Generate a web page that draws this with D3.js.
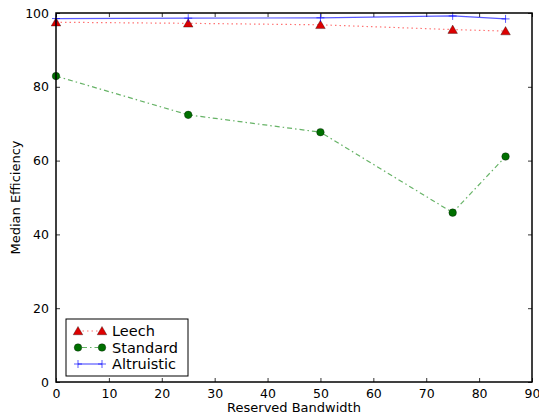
<!DOCTYPE html>
<html>
<head>
<meta charset="utf-8">
<script src="https://cdn.jsdelivr.net/npm/d3@7"></script>
<style>
  body { margin: 0; background: #fff; }
  text { font-family: "DejaVu Sans", sans-serif; }
</style>
</head>
<body>
<div id="chart"></div>
<script>
// data
var bandwidth = [0, 25, 50, 75, 85];
var leech = [97.5, 97.2, 96.8, 95.5, 95.1];
var standard = [82.9, 72.4, 67.7, 45.9, 61.1];
var altruistic = [98.5, 98.6, 98.7, 99.2, 98.4];
var xTicks = [0, 10, 20, 30, 40, 50, 60, 70, 80, 90];
var yTicks = [0, 20, 40, 60, 80, 100];

var margin = {top: 13, right: 7, bottom: 35, left: 56},
    width = 539 - margin.left - margin.right,
    height = 417 - margin.top - margin.bottom;

var svg = d3.select("#chart")
  .append("svg")
    .attr("width", 539)
    .attr("height", 417)
  .append("g")
    .attr("transform", "translate(" + margin.left + "," + margin.top + ")");

var x = d3.scaleLinear().domain([0, 90]).range([0, width]);
var y = d3.scaleLinear().domain([0, 100]).range([height, 0]);

// axes, ticks pointing inward like matplotlib classic
function styleAxis(g) {
  g.select(".domain").remove();
  g.selectAll("line").attr("stroke", "#000").attr("stroke-width", 0.8);
  g.selectAll("text").attr("font-size", 12.5).attr("fill", "#000");
}
svg.append("g")
  .attr("transform", "translate(0," + height + ")")
  .call(d3.axisBottom(x).tickValues(xTicks).tickSizeInner(-4).tickSizeOuter(0).tickPadding(7))
  .call(styleAxis);
svg.append("g")
  .call(d3.axisTop(x).tickValues(xTicks).tickSizeInner(-4).tickSizeOuter(0).tickFormat(""))
  .call(styleAxis);
svg.append("g")
  .call(d3.axisLeft(y).tickValues(yTicks).tickSizeInner(-4).tickSizeOuter(0).tickPadding(7))
  .call(styleAxis);
svg.append("g")
  .attr("transform", "translate(" + width + ",0)")
  .call(d3.axisRight(y).tickValues(yTicks).tickSizeInner(-4).tickSizeOuter(0).tickFormat(""))
  .call(styleAxis);

var line = function(vals) {
  return d3.line()
    .x(function(d, i) { return x(bandwidth[i]); })
    .y(function(d) { return y(d); })(vals);
};

// Leech
svg.append("path")
  .attr("d", line(leech))
  .attr("fill", "none")
  .attr("stroke", "#ff0000")
  .attr("stroke-opacity", 0.55)
  .attr("stroke-width", 1.2)
  .attr("stroke-dasharray", "1.5,3");
// Standard
svg.append("path")
  .attr("d", line(standard))
  .attr("fill", "none")
  .attr("stroke", "#008000")
  .attr("stroke-opacity", 0.6)
  .attr("stroke-width", 1.2)
  .attr("stroke-dasharray", "5,3,1.5,3");
// Altruistic
svg.append("path")
  .attr("d", line(altruistic))
  .attr("fill", "none")
  .attr("stroke", "#0000ff")
  .attr("stroke-opacity", 0.65)
  .attr("stroke-width", 1.2);

var tri = d3.symbol().type(d3.symbolTriangle).size(40);
svg.selectAll(".leech")
  .data(leech)
  .enter()
  .append("path")
    .attr("d", tri)
    .attr("transform", function(d, i) { return "translate(" + x(bandwidth[i]) + "," + (y(d) + 1) + ")"; })
    .attr("fill", "#dd0000")
    .attr("stroke", "#000")
    .attr("stroke-opacity", 0.4)
    .attr("stroke-width", 0.8);

svg.selectAll(".standard")
  .data(standard)
  .enter()
  .append("circle")
    .attr("cx", function(d, i) { return x(bandwidth[i]); })
    .attr("cy", function(d) { return y(d); })
    .attr("r", 3.8)
    .attr("fill", "#007000")
    .attr("stroke", "#000")
    .attr("stroke-opacity", 0.4)
    .attr("stroke-width", 0.8);

svg.selectAll(".altruistic")
  .data(altruistic)
  .enter()
  .append("path")
    .attr("d", function(d, i) {
      var cx = x(bandwidth[i]), cy = y(d);
      return "M" + (cx - 4) + "," + cy + "H" + (cx + 4) + "M" + cx + "," + (cy - 4) + "V" + (cy + 4);
    })
    .attr("stroke", "#0000ff")
    .attr("stroke-opacity", 0.65)
    .attr("stroke-width", 1);

// frame
svg.append("rect")
  .attr("width", width)
  .attr("height", height)
  .attr("fill", "none")
  .attr("stroke", "#000")
  .attr("stroke-width", 1.5);

// axis labels
svg.append("text")
  .attr("x", width / 2)
  .attr("y", height + 30)
  .attr("text-anchor", "middle")
  .attr("font-size", 13)
  .text("Reserved Bandwidth");
svg.append("text")
  .attr("transform", "translate(" + (-36) + "," + (height / 2) + ")rotate(-90)")
  .attr("text-anchor", "middle")
  .attr("font-size", 13)
  .text("Median Efficiency");

// legend
var legend = svg.append("g").attr("transform", "translate(10,306)");
legend.append("rect")
  .attr("width", 122)
  .attr("height", 57)
  .attr("fill", "#fff")
  .attr("stroke", "#000")
  .attr("stroke-width", 1);

var entries = ["Leech", "Standard", "Altruistic"];
entries.forEach(function(name, k) {
  var ly = 12 + k * 16.5;
  var row = legend.append("g");
  var seg = row.append("line")
    .attr("x1", 12).attr("x2", 36)
    .attr("y1", ly).attr("y2", ly)
    .attr("stroke-width", 1.2);
  if (k == 0) {
    seg.attr("stroke", "#ff0000").attr("stroke-opacity", 0.55).attr("stroke-dasharray", "1.5,3");
    [12, 36].forEach(function(px) {
      row.append("path").attr("d", tri)
        .attr("transform", "translate(" + px + "," + (ly + 1) + ")")
        .attr("fill", "#dd0000").attr("stroke", "#000").attr("stroke-opacity", 0.4).attr("stroke-width", 0.8);
    });
  } else if (k == 1) {
    seg.attr("stroke", "#008000").attr("stroke-opacity", 0.6).attr("stroke-dasharray", "5,3,1.5,3")
      .attr("x1", 16).attr("x2", 32);
    [12, 36].forEach(function(px) {
      row.append("circle").attr("cx", px).attr("cy", ly).attr("r", 3.8)
        .attr("fill", "#007000").attr("stroke", "#000").attr("stroke-opacity", 0.4).attr("stroke-width", 0.8);
    });
  } else {
    seg.attr("stroke", "#0000ff").attr("stroke-opacity", 0.65);
    [12, 36].forEach(function(px) {
      row.append("path")
        .attr("d", "M" + (px - 4) + "," + ly + "H" + (px + 4) + "M" + px + "," + (ly - 4) + "V" + (ly + 4))
        .attr("stroke", "#0000ff").attr("stroke-opacity", 0.65).attr("stroke-width", 1);
    });
  }
  row.append("text")
    .attr("x", 46)
    .attr("y", ly + 5)
    .attr("font-size", 14.5)
    .text(name);
});
</script>
</body>
</html>
